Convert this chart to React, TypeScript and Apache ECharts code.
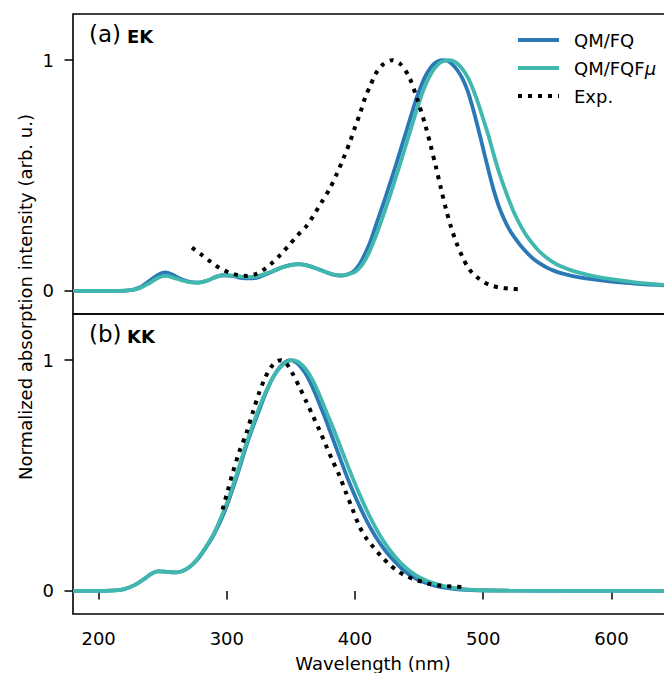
import React, { useEffect, useRef } from "react";
import * as echarts from "echarts";

// ---------- data ----------
const xTicks = [200, 300, 400, 500, 600];
const yTicks = [0, 1];
const seriesNames = ["QM/FQ", "QM/FQFμ", "Exp."];

// Panel (a) EK
const ekFqX = [180, 200, 215, 225, 232, 240, 247, 252, 257, 265, 272, 278, 285, 292, 298, 305, 312, 318, 325, 333, 342, 350, 356, 362, 370, 378, 385, 390, 396, 400, 404, 408, 412, 416, 420, 424, 428, 432, 436, 440, 444, 448, 452, 456, 460, 464, 468, 472, 476, 480, 484, 488, 492, 496, 500, 504, 508, 512, 516, 520, 524, 528, 532, 536, 540, 545, 550, 555, 560, 570, 580, 600, 620, 650];
const ekFqY = [0, 0, 0, 0.003, 0.015, 0.045, 0.072, 0.08, 0.072, 0.05, 0.038, 0.036, 0.045, 0.062, 0.068, 0.064, 0.056, 0.054, 0.06, 0.078, 0.1, 0.113, 0.116, 0.112, 0.097, 0.08, 0.068, 0.066, 0.075, 0.09, 0.12, 0.163, 0.215, 0.28, 0.345, 0.41, 0.478, 0.548, 0.62, 0.692, 0.765, 0.835, 0.895, 0.942, 0.975, 0.993, 1.0, 0.997, 0.982, 0.955, 0.918, 0.865, 0.79, 0.705, 0.615, 0.525, 0.44, 0.37, 0.315, 0.27, 0.235, 0.205, 0.178, 0.155, 0.135, 0.116, 0.1, 0.088, 0.078, 0.064, 0.054, 0.04, 0.031, 0.022];

const ekFqfX = [180, 200, 215, 225, 232, 240, 247, 252, 257, 265, 272, 278, 285, 292, 298, 305, 312, 318, 325, 333, 342, 350, 356, 362, 370, 378, 385, 390, 396, 400, 404, 408, 412, 416, 420, 424, 428, 432, 436, 440, 444, 448, 452, 456, 460, 464, 468, 473, 477, 480, 484, 488, 492, 496, 500, 504, 508, 512, 516, 520, 524, 528, 532, 536, 540, 545, 550, 555, 560, 570, 580, 590, 600, 620, 650];
const ekFqfY = [0, 0, 0, 0.003, 0.012, 0.035, 0.058, 0.065, 0.06, 0.045, 0.037, 0.036, 0.045, 0.062, 0.068, 0.066, 0.062, 0.06, 0.065, 0.08, 0.1, 0.112, 0.115, 0.111, 0.097, 0.08, 0.069, 0.067, 0.074, 0.082, 0.102, 0.135, 0.18, 0.235, 0.295, 0.36, 0.425, 0.495, 0.565, 0.638, 0.71, 0.782, 0.85, 0.905, 0.948, 0.977, 0.994, 1.0, 0.995, 0.985, 0.96, 0.925, 0.875, 0.815, 0.745, 0.675, 0.595, 0.52, 0.455, 0.395, 0.34, 0.295, 0.255, 0.222, 0.195, 0.165, 0.142, 0.123, 0.108, 0.087, 0.072, 0.06, 0.051, 0.036, 0.022];

const ekExpX = [272.8, 280, 287, 294, 302, 309, 316, 323, 330, 336, 341, 348, 355, 362, 368, 374, 380, 386, 391, 396, 400, 404, 408, 412, 416, 422, 429, 435, 442, 448, 455, 459, 463, 467, 471, 475, 479, 484, 489, 495, 501, 507, 515, 522, 529.5];
const ekExpY = [0.188, 0.158, 0.128, 0.1, 0.079, 0.068, 0.065, 0.074, 0.097, 0.125, 0.152, 0.195, 0.24, 0.28, 0.33, 0.385, 0.44, 0.51, 0.575, 0.645, 0.71, 0.77, 0.84, 0.89, 0.94, 0.982, 1.0, 0.985, 0.93, 0.84, 0.715, 0.63, 0.54, 0.445, 0.354, 0.275, 0.21, 0.145, 0.094, 0.06, 0.037, 0.022, 0.013, 0.009, 0.007];

// Panel (b) KK
const kkFqX = [180, 205, 213, 220, 228, 235, 241, 246, 252, 258, 263, 268, 273, 278, 284, 290, 296, 300, 305, 310, 315, 320, 326, 331, 336, 341, 345, 349, 353, 357, 361, 365, 369, 373, 377, 381, 385, 389, 393, 397, 401, 405, 409, 413, 417, 421, 425, 429, 433, 437, 441, 445, 450, 456, 462, 470, 480, 495, 520, 650];
const kkFqY = [0, 0, 0.002, 0.008, 0.025, 0.05, 0.074, 0.085, 0.084, 0.08, 0.082, 0.093, 0.113, 0.142, 0.19, 0.245, 0.315, 0.37, 0.45, 0.535, 0.625, 0.705, 0.795, 0.865, 0.925, 0.968, 0.99, 1.0, 0.994, 0.975, 0.945, 0.905, 0.855, 0.8, 0.745, 0.685, 0.625, 0.565, 0.505, 0.45, 0.398, 0.35, 0.305, 0.264, 0.227, 0.194, 0.165, 0.139, 0.116, 0.094, 0.076, 0.061, 0.046, 0.033, 0.023, 0.014, 0.007, 0.003, 0.001, 0];

const kkFqfX = [180, 205, 213, 220, 228, 235, 241, 246, 252, 258, 263, 268, 273, 278, 284, 290, 296, 300, 305, 310, 315, 320, 326, 331, 336, 341, 346, 351, 355, 359, 363, 367, 371, 375, 379, 383, 387, 391, 395, 399, 403, 407, 411, 415, 419, 423, 427, 431, 435, 439, 443, 447, 452, 458, 464, 472, 482, 495, 520, 650];
const kkFqfY = [0, 0, 0.002, 0.008, 0.025, 0.05, 0.074, 0.085, 0.084, 0.08, 0.082, 0.093, 0.114, 0.145, 0.193, 0.25, 0.325, 0.38, 0.46, 0.545, 0.635, 0.715, 0.805, 0.87, 0.925, 0.965, 0.99, 1.0, 0.994, 0.977, 0.95, 0.912, 0.865, 0.812, 0.758, 0.705, 0.648, 0.59, 0.533, 0.478, 0.425, 0.375, 0.328, 0.285, 0.245, 0.21, 0.178, 0.15, 0.125, 0.104, 0.085, 0.07, 0.054, 0.04, 0.029, 0.018, 0.01, 0.004, 0.001, 0];

const kkExpX = [296.7, 300.5, 304.5, 309.5, 315, 320, 325, 330, 334.5, 338.5, 342.3, 346.5, 351, 356.5, 362, 367, 372, 377, 382, 387.8, 393, 398, 403.4, 408.6, 413.7, 420.3, 426.8, 433.2, 439.8, 446.3, 452.7, 459.3, 468.3, 476, 485];
const kkExpY = [0.353, 0.43, 0.51, 0.6, 0.68, 0.77, 0.856, 0.925, 0.97, 0.993, 1.0, 0.985, 0.945, 0.885, 0.82, 0.76, 0.7, 0.635, 0.57, 0.5, 0.425, 0.355, 0.28, 0.23, 0.194, 0.151, 0.115, 0.086, 0.065, 0.05, 0.039, 0.029, 0.022, 0.019, 0.017];

const zip = (xs: number[], ys: number[]) => xs.map((x, i) => [x, ys[i]]);

const BLUE = "#2a78b6";
const TEAL = "#40b8ae";
const FONT = "DejaVu Sans";

export default function App() {
  const ref = useRef<HTMLDivElement>(null);
  useEffect(() => {
    if (!ref.current) return;
    const chart = echarts.init(ref.current, undefined, { renderer: "svg" });

    const lineBase = (name: string, color: string, data: number[][], idx: number, dotted = false, z = 2) => ({
      type: "line",
      name,
      xAxisIndex: idx,
      yAxisIndex: idx,
      data,
      showSymbol: false,
      symbol: "none",
      smooth: 0.3,
      z,
      lineStyle: {
        color,
        width: dotted ? 4 : 3.8,
        type: dotted ? [4, 6] : "solid",
        cap: "butt",
      },
      itemStyle: { color },
      emphasis: { disabled: true },
    });

    const yAxis = (gi: number) => ({
      type: "value",
      gridIndex: gi,
      min: -0.1,
      max: 1.2,
      splitLine: { show: false },
      axisLine: { show: false },
      axisTick: { show: true, customValues: yTicks, length: 8.5, lineStyle: { color: "#000", width: 1.5 } },
      axisLabel: { show: true, customValues: yTicks, margin: 19, color: "#000", fontSize: 18, fontFamily: FONT },
    });

    const gridBase = {
      left: 73, width: 602.5, height: 300, show: true, borderColor: "#000", borderWidth: 1.6,
      backgroundColor: "transparent", containLabel: false, outerBoundsMode: "none",
    };

    const option: any = {
      animation: false,
      grid: [
        { ...gridBase, top: 14 },
        { ...gridBase, top: 314 },
      ],
      xAxis: [
        {
          type: "value", gridIndex: 0, min: 180, max: 650,
          splitLine: { show: false }, axisLine: { show: false },
          axisTick: { show: false }, axisLabel: { show: false },
        },
        {
          type: "value", gridIndex: 1, min: 180, max: 650,
          splitLine: { show: false }, axisLine: { show: false },
          axisTick: { show: true, customValues: xTicks, length: 8.5, lineStyle: { color: "#000", width: 1.5 } },
          axisLabel: { show: true, customValues: xTicks, margin: 15, color: "#000", fontSize: 18, fontFamily: FONT },
        },
      ],
      yAxis: [yAxis(0), yAxis(1)],
      legend: {
        orient: "vertical",
        left: 516,
        top: 31,
        padding: 0,
        itemWidth: 41,
        itemHeight: 14,
        itemGap: 10,
        data: seriesNames,
        selectedMode: false,
        itemStyle: { opacity: 0 },
        lineStyle: { width: 4 },
        formatter: (n: string) => (n === "QM/FQFμ" ? "{n|QM/FQF}{i|μ}" : "{n|" + n + "}"),
        textStyle: {
          color: "#000",
          fontSize: 18,
          fontFamily: FONT,
          padding: [0, 0, 0, 10],
          rich: {
            n: { fontSize: 18, fontFamily: FONT, color: "#000" },
            i: { fontSize: 18, fontFamily: FONT, fontStyle: "italic", color: "#000" },
          },
        },
      },
      series: [
        lineBase(seriesNames[0], BLUE, zip(ekFqX, ekFqY), 0, false, 2),
        lineBase(seriesNames[1], TEAL, zip(ekFqfX, ekFqfY), 0, false, 3),
        lineBase(seriesNames[2], "#000", zip(ekExpX, ekExpY), 0, true, 4),
        lineBase(seriesNames[0], BLUE, zip(kkFqX, kkFqY), 1, false, 2),
        lineBase(seriesNames[1], TEAL, zip(kkFqfX, kkFqfY), 1, false, 3),
        lineBase(seriesNames[2], "#000", zip(kkExpX, kkExpY), 1, true, 4),
      ],
      graphic: [
        {
          type: "text", left: 89, top: 22,
          style: { text: "(a)", fontSize: 23, fontFamily: FONT, fill: "#000" },
        },
        {
          type: "text", left: 127, top: 27,
          style: { text: "EK", fontSize: 18, fontWeight: "bold", fontFamily: FONT, fill: "#000" },
        },
        {
          type: "text", left: 89, top: 322,
          style: { text: "(b)", fontSize: 23, fontFamily: FONT, fill: "#000" },
        },
        {
          type: "text", left: 127, top: 327,
          style: { text: "KK", fontSize: 18, fontWeight: "bold", fontFamily: FONT, fill: "#000" },
        },
        {
          type: "text", x: 373, y: 663,
          style: { text: "Wavelength (nm)", fontSize: 18, fontFamily: FONT, fill: "#000", align: "center", verticalAlign: "middle" },
        },
        {
          type: "text", x: 25, y: 297, rotation: Math.PI / 2,
          style: { text: "Normalized absorption intensity (arb. u.)", fontSize: 18, fontFamily: FONT, fill: "#000", align: "center", verticalAlign: "middle" },
        },
      ],
    };
    chart.setOption(option);
    return () => chart.dispose();
  }, []);

  return (
    <div
      ref={ref}
      style={{ position: "fixed", left: 0, top: 0, width: 664, height: 673, background: "#fff" }}
    />
  );
}
